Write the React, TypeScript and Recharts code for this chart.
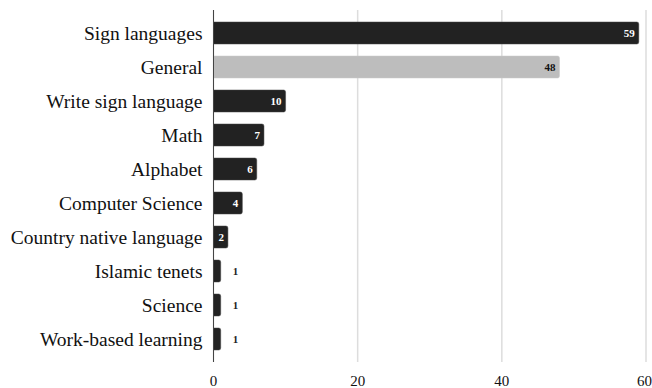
import { BarChart, Bar, XAxis, YAxis, CartesianGrid, Cell, LabelList } from 'recharts';

const categories = [
  'Sign languages',
  'General',
  'Write sign language ',
  'Math',
  'Alphabet',
  'Computer Science',
  'Country native language',
  'Islamic tenets',
  'Science',
  'Work-based learning',
];
const counts = [59, 48, 10, 7, 6, 4, 2, 1, 1, 1];
const highlighted = ['General'];
const xTicks = [0, 20, 40, 60];

const data = categories.map((name, i) => ({ name, count: counts[i] }));

const FONT = 'Liberation Serif';

// values inside the bar when there's room, otherwise just past its end
const renderValue = (props: any) => {
  const { x, y, width, height, value } = props;
  const inside = value >= 2;
  return (
    <text
      x={inside ? x + width - 4 : x + width + 12}
      y={y + height / 2}
      dy="0.35em"
      textAnchor={inside ? 'end' : 'start'}
      fontSize={11}
      fontWeight="bold"
      fontFamily={FONT}
      fill={inside ? (highlighted.includes(categories[props.index]) ? '#111' : '#fff') : '#222'}
    >
      {value}
    </text>
  );
};

export default function App() {
  return (
    <div style={{ position: 'absolute', left: 0, top: 0 }}>
      <BarChart
        width={652}
        height={388}
        data={data}
        layout="vertical"
        margin={{ top: 10, right: 6, bottom: 0, left: 0 }}
        barSize={22}
        style={{ fontFamily: FONT }}
      >
        <CartesianGrid horizontal={false} stroke="#dddddd" strokeWidth={1.5} />
        <XAxis
          type="number"
          domain={[0, 60]}
          ticks={xTicks}
          axisLine={false}
          tickLine={false}
          tickMargin={7}
          height={26}
          tick={{ fontSize: 15, fill: '#111', fontFamily: FONT }}
        />
        <YAxis
          type="category"
          dataKey="name"
          width={213.5}
          tickLine={false}
          tickMargin={5}
          padding={{ top: 6, bottom: 6 }}
          axisLine={{ stroke: '#444' }}
          interval={0}
          tick={{ fontSize: 19.5, fill: '#111', fontFamily: FONT }}
        />
        <Bar dataKey="count" radius={[0, 2, 2, 0]} isAnimationActive={false}>
          {data.map((entry) => (
            <Cell
              key={entry.name}
              fill={highlighted.includes(entry.name) ? '#bdbdbd' : '#222222'}
              stroke={highlighted.includes(entry.name) ? '#c8c8c8' : '#444'}
              strokeWidth={0.5}
            />
          ))}
          <LabelList dataKey="count" content={renderValue} />
        </Bar>
      </BarChart>
    </div>
  );
}
